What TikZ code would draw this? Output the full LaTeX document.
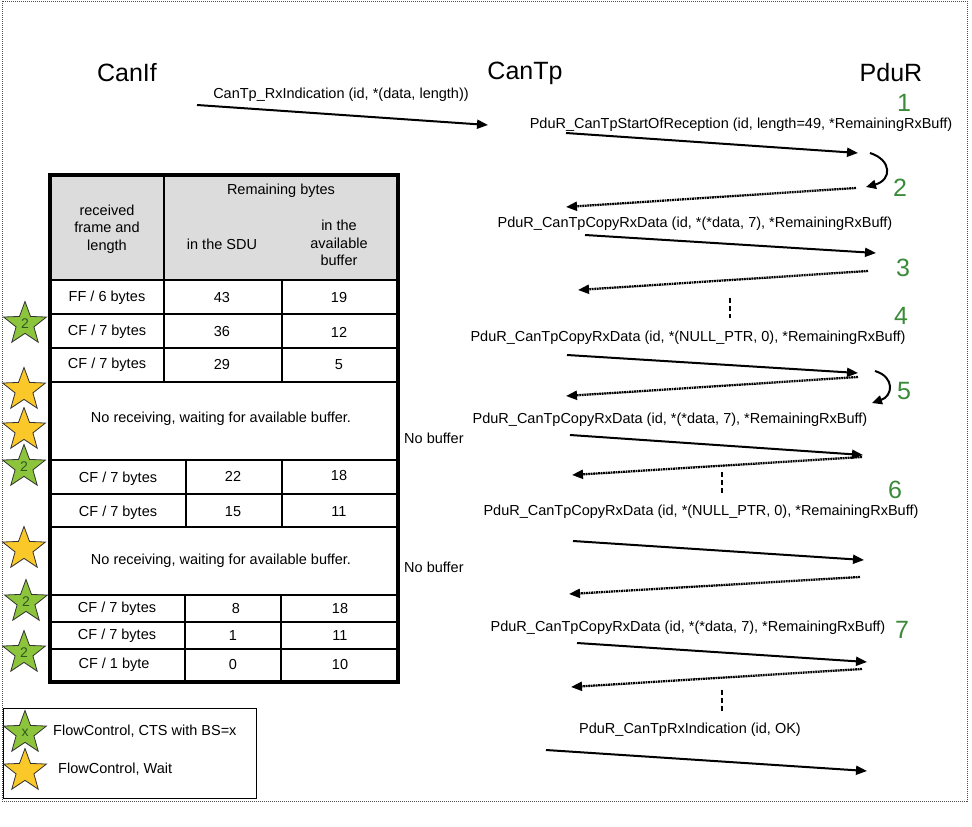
\documentclass[tikz,border=0pt]{standalone}
\usepackage{fontspec}
\setmainfont{Liberation Sans}
\usetikzlibrary{arrows.meta,shapes.geometric}
\definecolor{hdrgray}{HTML}{DCDCDC}
\definecolor{stargreen}{HTML}{8CC43C}
\definecolor{staryellow}{HTML}{FAC828}
\definecolor{numgreen}{HTML}{3A8A3A}
\definecolor{digitgreen}{HTML}{2E5A1E}
\tikzset{
  lbl/.style={font=\fontsize{14.5}{17}\selectfont, inner sep=0pt},
  tbl/.style={font=\fontsize{14.5}{17.5}\selectfont, inner sep=0pt, align=center},
  title/.style={font=\fontsize{25}{28}\selectfont, inner sep=0pt},
  stepnum/.style={font=\fontsize{25}{28}\selectfont, text=numgreen, inner sep=0pt},
  sarrow/.style={line width=2pt, -{Triangle[length=11pt,width=9pt]}},
  darrow/.style={line width=2.3pt, dash pattern=on 1.8pt off 0.7pt, -{Triangle[length=11pt,width=9pt]}},
  curvarrow/.style={line width=2pt, -{Triangle[length=10pt,width=9pt]}},
  vdash/.style={line width=1.5pt, dash pattern=on 5pt off 3pt},
  tline/.style={line width=1.8pt},
  gstar/.style={star, star points=5, star point ratio=2.4, minimum size=45pt, inner sep=0pt,
    draw=black!80, line width=0.8pt, fill=stargreen, text=digitgreen, font=\fontsize{14}{14}\selectfont},
  ystar/.style={star, star points=5, star point ratio=2.4, minimum size=45pt, inner sep=0pt,
    draw=black!80, line width=0.8pt, fill=staryellow},
}
\begin{document}
\begin{tikzpicture}[x=1pt,y=-1pt]
\useasboundingbox (0,0) rectangle (972,827);
% outer dotted frame
\draw[line width=1pt, black!70, dash pattern=on 1pt off 1pt] (2,1) rectangle (967,801);

% titles
\node[title] (canif) at (127,73) {CanIf};
\node[title] (cantp) at (525,73) {CanTp};
\node[title] (pdur) at (891,73) {PduR};

% ---------- table ----------
\fill[hdrgray] (50,175) rectangle (398,280);
\foreach \yy in {280,314,348,382,460,494,527,595,622,649}
  \draw[tline] (50,\yy) -- (398,\yy);
\draw[tline] (164,175) -- (164,382);
\draw[tline] (282,280) -- (282,382);
\draw[tline] (186,460) -- (186,527);
\draw[tline] (282,460) -- (282,527);
\draw[tline] (185,595) -- (185,682);
\draw[tline] (281,595) -- (281,682);
\draw[line width=3.5pt] (50,175) rectangle (398,682);

\node[tbl] (h1) at (107,229) {received\\frame and\\length};
\node[tbl] (h2) at (281,191) {Remaining bytes};
\node[tbl] (h3) at (222,244) {in the SDU};
\node[tbl] (h4) at (339,243) {in the\\available\\buffer};

\node[tbl] (r1a) at (107,298) {FF / 6 bytes};
\node[tbl] (r1b) at (222,298) {43};
\node[tbl] (r1c) at (339,298) {19};
\node[tbl] (r2a) at (107,332) {CF / 7 bytes};
\node[tbl] (r2b) at (222,332) {36};
\node[tbl] (r2c) at (339,332) {12};
\node[tbl] (r3a) at (107,365) {CF / 7 bytes};
\node[tbl] (r3b) at (222,365) {29};
\node[tbl] (r3c) at (339,365) {5};
\node[tbl] (nr1) at (221,419) {No receiving, waiting for available buffer.};
\node[tbl] (r4a) at (118,479) {CF / 7 bytes};
\node[tbl] (r4b) at (233,476) {22};
\node[tbl] (r4c) at (339,476) {18};
\node[tbl] (r5a) at (118,513) {CF / 7 bytes};
\node[tbl] (r5b) at (233,512) {15};
\node[tbl] (r5c) at (339,512) {11};
\node[tbl] (nr2) at (221,561) {No receiving, waiting for available buffer.};
\node[tbl] (r6a) at (117,609) {CF / 7 bytes};
\node[tbl] (r6b) at (236,609) {8};
\node[tbl] (r6c) at (340,609) {18};
\node[tbl] (r7a) at (117,636) {CF / 7 bytes};
\node[tbl] (r7b) at (233,636) {1};
\node[tbl] (r7c) at (340,636) {11};
\node[tbl] (r8a) at (114,665) {CF / 1 byte};
\node[tbl] (r8b) at (233,665) {0};
\node[tbl] (r8c) at (340,665) {10};

% stars
\node[gstar] (s1) at (25,324) {2};
\node[ystar] (s2) at (24,390) {};
\node[ystar] (s3) at (24,430) {};
\node[gstar] (s4) at (24,467) {2};
\node[ystar] (s5) at (24,549) {};
\node[gstar] (s6) at (26,602) {2};
\node[gstar] (s7) at (24,653) {2};

% legend
\draw[line width=0.9pt] (3,708) rectangle (256,798);
\node[gstar] (lg) at (25,733) {x};
\node[ystar] (ly) at (25,771) {};
\node[lbl, anchor=west] (lgt) at (53,731) {FlowControl, CTS with BS=x};
\node[lbl, anchor=west] (lyt) at (58,769) {FlowControl, Wait};

% no buffer
\node[lbl, anchor=west] (nb1) at (404,438) {No buffer};
\node[lbl, anchor=west] (nb2) at (404,567) {No buffer};

% ---------- sequence ----------
\node[lbl] (m0) at (341,95) {CanTp\_RxIndication (id, *(data, length))};
\coordinate (a0s) at (197,105); \coordinate (a0e) at (488,125);
\draw[sarrow] (a0s) -- (a0e);

\node[lbl] (m1) at (741,125) {PduR\_CanTpStartOfReception (id, length=49, *RemainingRxBuff)};
\node[stepnum] (n1) at (904,103) {1};
\coordinate (a1s) at (566,133); \coordinate (a1e) at (858,153);
\draw[sarrow] (a1s) -- (a1e);
\coordinate (c1s) at (870,153); \coordinate (c1e) at (866,187);
\draw[curvarrow] (c1s) .. controls (892,160) and (892,180) .. (c1e);
\node[stepnum] (n2) at (900,188) {2};
\coordinate (d1s) at (856,188); \coordinate (d1e) at (566,207);
\draw[darrow] (d1s) -- (d1e);

\node[lbl] (m2) at (695,224) {PduR\_CanTpCopyRxData (id, *(*data, 7), *RemainingRxBuff)};
\coordinate (a2s) at (585,235); \coordinate (a2e) at (876,253);
\draw[sarrow] (a2s) -- (a2e);
\node[stepnum] (n3) at (903,268) {3};
\coordinate (d2s) at (868,271); \coordinate (d2e) at (578,290);
\draw[darrow] (d2s) -- (d2e);
\coordinate (v1s) at (730,298); \coordinate (v1e) at (730,318);
\draw[vdash] (v1s) -- (v1e);

\node[stepnum] (n4) at (901,316) {4};
\node[lbl] (m3) at (688,338) {PduR\_CanTpCopyRxData (id, *(NULL\_PTR, 0), *RemainingRxBuff)};
\coordinate (a3s) at (567,355); \coordinate (a3e) at (858,373);
\draw[sarrow] (a3s) -- (a3e);
\coordinate (d3s) at (858,377); \coordinate (d3e) at (566,396);
\draw[darrow] (d3s) -- (d3e);
\coordinate (c2s) at (875,371); \coordinate (c2e) at (872,403);
\draw[curvarrow] (c2s) .. controls (895,377) and (893,396) .. (c2e);
\node[stepnum] (n5) at (904,391) {5};

\node[lbl] (m4) at (670,420) {PduR\_CanTpCopyRxData (id, *(*data, 7), *RemainingRxBuff)};
\coordinate (a4s) at (570,435); \coordinate (a4e) at (863,455);
\draw[sarrow] (a4s) -- (a4e);
\coordinate (d4s) at (862,457); \coordinate (d4e) at (572,475);
\draw[darrow] (d4s) -- (d4e);
\coordinate (v2s) at (722,472); \coordinate (v2e) at (722,495);
\draw[vdash] (v2s) -- (v2e);
\node[stepnum] (n6) at (895,490) {6};
\node[lbl] (m5) at (701,512) {PduR\_CanTpCopyRxData (id, *(NULL\_PTR, 0), *RemainingRxBuff)};

\coordinate (a5s) at (573,541); \coordinate (a5e) at (864,560);
\draw[sarrow] (a5s) -- (a5e);
\coordinate (d5s) at (860,577); \coordinate (d5e) at (569,594);
\draw[darrow] (d5s) -- (d5e);

\node[lbl] (m6) at (688,628) {PduR\_CanTpCopyRxData (id, *(*data, 7), *RemainingRxBuff)};
\node[stepnum] (n7) at (902,630) {7};
\coordinate (a6s) at (577,643); \coordinate (a6e) at (867,662);
\draw[sarrow] (a6s) -- (a6e);
\coordinate (d6s) at (862,669); \coordinate (d6e) at (571,687);
\draw[darrow] (d6s) -- (d6e);
\coordinate (v3s) at (722,690); \coordinate (v3e) at (722,713);
\draw[vdash] (v3s) -- (v3e);

\node[lbl] (m7) at (690,730) {PduR\_CanTpRxIndication (id, OK)};
\coordinate (a7s) at (546,750); \coordinate (a7e) at (867,771);
\draw[sarrow] (a7s) -- (a7e);
\end{tikzpicture}
\end{document}
